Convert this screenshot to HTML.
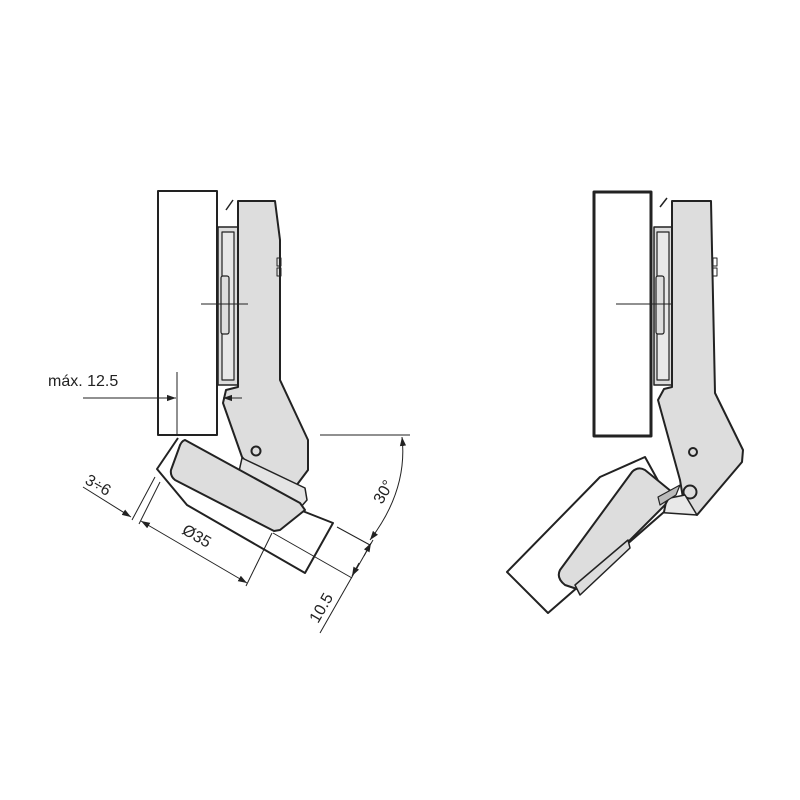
<!DOCTYPE html>
<html><head><meta charset="utf-8"><style>html,body{margin:0;padding:0;background:#fff}svg{display:block}</style></head><body>
<svg width="800" height="800" viewBox="0 0 800 800" xmlns="http://www.w3.org/2000/svg" font-family="Liberation Sans, sans-serif">
<defs>
<marker id="a" viewBox="0 0 10 10" refX="10" refY="5" markerWidth="9" markerHeight="9" orient="auto-start-reverse" markerUnits="userSpaceOnUse"><path d="M0,1.5 L10,5 L0,8.5 z" fill="#222"/></marker>
</defs>
<g stroke="#222" stroke-linejoin="round" fill="none">
<!-- LEFT HINGE -->
<rect x="158" y="191" width="59" height="244" stroke-width="2" fill="#fff"/>
<line x1="226" y1="210" x2="233" y2="200" stroke-width="1.5"/>
<rect x="218" y="227" width="20" height="158" fill="#ddd" stroke-width="1.5"/>
<rect x="222" y="232" width="12" height="148" fill="#e8e8e8" stroke-width="1.2"/>
<rect x="221" y="276" width="8" height="58" rx="2" fill="#ddd" stroke-width="1.2"/>
<path d="M238,201 L275,201 L280,240 L280,380 L308,440 L308,470 L296,486 L250,466 L242,457 L223,403 L226,390 L238,387 Z" fill="#ddd" stroke-width="2"/>
<rect x="277" y="258" width="4" height="8" stroke-width="1"/><rect x="277" y="268" width="4" height="8" stroke-width="1"/>
<circle cx="256" cy="451" r="4.5" fill="#ddd" stroke-width="2"/>
<path d="M178,438 L157,469 L187,505 L305,573 L333,523 L300,510" fill="#fff" stroke-width="2"/>
<path d="M242,458 L305,488 L307,500 L300,508 L238,476 Z" fill="#e4e4e4" stroke-width="1.5"/>
<path d="M185,440 L300,503 L305,510 L280,530 L274,531 L175,480 Q170,476 171,470 L179,448 Q181,441 185,440 Z" fill="#ddd" stroke-width="2"/>
</g>
<!-- left dimensions -->
<g stroke="#222" stroke-width="1" fill="none">
<line x1="177" y1="372" x2="177" y2="435"/>
<line x1="83" y1="398" x2="176" y2="398" marker-end="url(#a)"/>
<line x1="242" y1="398" x2="223" y2="398" marker-end="url(#a)"/>
<line x1="155" y1="477" x2="132" y2="520"/>
<line x1="160" y1="482" x2="139" y2="524"/>
<line x1="83" y1="487" x2="131" y2="517" marker-end="url(#a)"/>
<line x1="141" y1="521" x2="247" y2="583" marker-start="url(#a)" marker-end="url(#a)"/>
<line x1="272" y1="533" x2="246" y2="586"/>
<line x1="273" y1="533" x2="352" y2="578"/>
<line x1="337" y1="527" x2="370" y2="545"/>
<line x1="373" y1="540" x2="320" y2="633"/>
<line x1="364" y1="556" x2="371" y2="543" marker-end="url(#a)"/>
<line x1="359" y1="563" x2="352" y2="576" marker-end="url(#a)"/>
<line x1="320" y1="435" x2="410" y2="435"/>
<path d="M370,540 Q408,490 402,437" marker-start="url(#a)" marker-end="url(#a)"/>
</g>
<g fill="#222" font-size="16">
<text x="48" y="386">máx. 12.5</text>
<text transform="translate(84,483) rotate(30)">3÷6</text>
<text transform="translate(181,533) rotate(30)">Ø35</text>
<text transform="translate(318,624) rotate(-60)">10.5</text>
<text transform="translate(382,505) rotate(-60)">30°</text>
</g>
<!-- RIGHT HINGE -->
<g stroke="#222" stroke-linejoin="round" fill="none">
<rect x="594" y="192" width="57" height="244" stroke-width="3" fill="#fff"/>
<line x1="660" y1="207" x2="667" y2="198" stroke-width="1.5"/>
<rect x="654" y="227" width="18" height="158" fill="#ddd" stroke-width="1.5"/>
<rect x="657" y="232" width="12" height="148" fill="#e8e8e8" stroke-width="1.2"/>
<rect x="656" y="276" width="8" height="58" rx="2" fill="#ddd" stroke-width="1.2"/>
<line x1="616" y1="304" x2="681" y2="304" stroke-width="1"/>
<line x1="201" y1="304" x2="248" y2="304" stroke-width="1"/>
<path d="M672,201 L711,201 L715,393 L743,450 L742,462 L697,515 L685,510 L680,480 L658,400 L664,389 L672,387 Z" fill="#ddd" stroke-width="2"/>
<rect x="713" y="258" width="4" height="8" stroke-width="1"/><rect x="713" y="268" width="4" height="8" stroke-width="1"/>
<circle cx="693" cy="452" r="4" fill="#ddd" stroke-width="2"/>
<circle cx="690" cy="492" r="6.5" fill="#ddd" stroke-width="2"/>
<path d="M653,512 L697,515 L685,495 L660,500 Z" fill="#e8e8e8" stroke-width="1.5"/>
<path d="M507,572 L600,477 L645,457 L667,497 L664,512 L548,613 Z" fill="#fff" stroke-width="2"/>
<path d="M560,570 L632,472 Q638,466 645,470 L672,492 L665,505 L580,590 L565,585 Q556,578 560,570 Z" fill="#ddd" stroke-width="2"/>
<path d="M575,585 L628,540 L630,548 L580,595 Z" fill="#ddd" stroke-width="1.5"/>
<path d="M658,497 L680,485 L676,495 L660,505 Z" fill="#bbb" stroke-width="1.2"/>
</g>
</svg>
</body></html>
